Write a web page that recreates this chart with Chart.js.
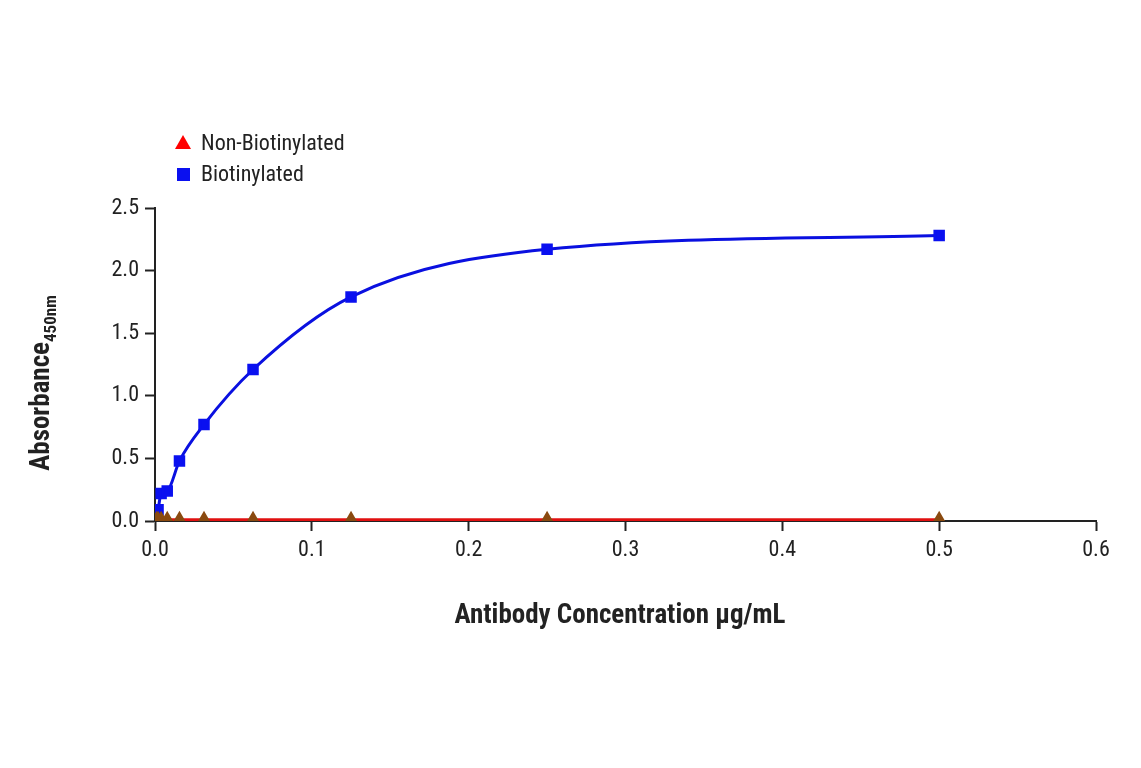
<!DOCTYPE html>
<html><head><meta charset="utf-8">
<script src="https://cdn.jsdelivr.net/npm/chart.js@4"></script>
<style>html,body{margin:0;background:#fff}#w{width:1141px;height:768px}</style>
</head><body><div id="w"><canvas id="c"></canvas></div>
<script>
const concentrations=[0.00098,0.00195,0.0039,0.0078,0.0156,0.03125,0.0625,0.125,0.25,0.5];
const biotinylated=[0.04,0.09,0.22,0.24,0.48,0.77,1.21,1.79,2.17,2.28];
const nonBiotinylated=[0.01,0.01,0.01,0.01,0.01,0.01,0.01,0.01,0.01,0.01];
const xTicks=[0,0.1,0.2,0.3,0.4,0.5,0.6];
const yTicks=[0,0.5,1.0,1.5,2.0,2.5];
const legendLabels=['Non-Biotinylated','Biotinylated'];
const F='"Liberation Sans Narrow","Roboto Condensed","Liberation Sans",sans-serif';
const pts=a=>concentrations.map((x,i)=>({x,y:a[i]}));
const titles={id:'titles',afterDraw(ch){const c=ch.ctx;c.save();c.fillStyle='#222';
c.font='bold 27px '+F;c.textAlign='center';c.textBaseline='middle';
c.fillText('Antibody Concentration µg/mL',620,616);
c.save();c.translate(42,350);c.rotate(-Math.PI/2);c.textAlign='right';c.fillText('Absorbance',8,0);
c.font='bold 17px '+F;c.textAlign='left';c.fillText('450nm',8,10);c.restore();
// legend
c.font='22px '+F;c.textAlign='left';c.fillStyle='#222';
c.fillText(legendLabels[0],201,144);c.fillText(legendLabels[1],201,175);
c.fillStyle='#ff0000';c.beginPath();c.moveTo(183,135);c.lineTo(191,149);c.lineTo(175,149);c.closePath();c.fill();
c.fillStyle='#0a10f0';c.fillRect(177,168,13,13);
c.restore();}};
new Chart(document.getElementById('c'),{type:'scatter',
data:{datasets:[
{label:legendLabels[0],data:pts(nonBiotinylated),showLine:true,borderColor:'#e01010',backgroundColor:'#ff0000',pointBackgroundColor:'#8a4a10',pointBorderColor:'#8a4a10',pointStyle:'triangle',pointRadius:6,borderWidth:3},
{label:legendLabels[1],data:pts(biotinylated),showLine:true,cubicInterpolationMode:'monotone',borderColor:'#0a10e0',backgroundColor:'#0a10f0',pointBackgroundColor:'#0a10f0',pointBorderColor:'#0a10f0',pointStyle:'rect',pointRadius:6,borderWidth:3}]},
options:{responsive:true,maintainAspectRatio:false,animation:false,
layout:{padding:{top:208,right:45,bottom:160,left:0}},
plugins:{tooltip:{enabled:false},legend:{display:false}},
scales:{
x:{type:'linear',min:0,max:0.6,afterBuildTicks:s=>{s.ticks=xTicks.map(v=>({value:v}))},
grid:{display:true,drawOnChartArea:false,drawTicks:true,tickLength:10,color:'#222',tickColor:'#222',tickWidth:2},border:{color:'#222',width:2},
ticks:{color:'#222',font:{family:F,size:22},padding:6,callback:v=>v===0?'0.0':String(v)},afterFit:s=>{s.height=87}},
y:{min:0,max:2.5,afterBuildTicks:s=>{s.ticks=yTicks.map(v=>({value:v}))},
grid:{display:true,drawOnChartArea:false,drawTicks:true,tickLength:10,color:'#222',tickColor:'#222',tickWidth:2},border:{color:'#222',width:2},
ticks:{color:'#222',font:{family:F,size:22},padding:6,callback:v=>v.toFixed(1)},afterFit:s=>{s.width=155}}}},
plugins:[titles]});
</script></body></html>
